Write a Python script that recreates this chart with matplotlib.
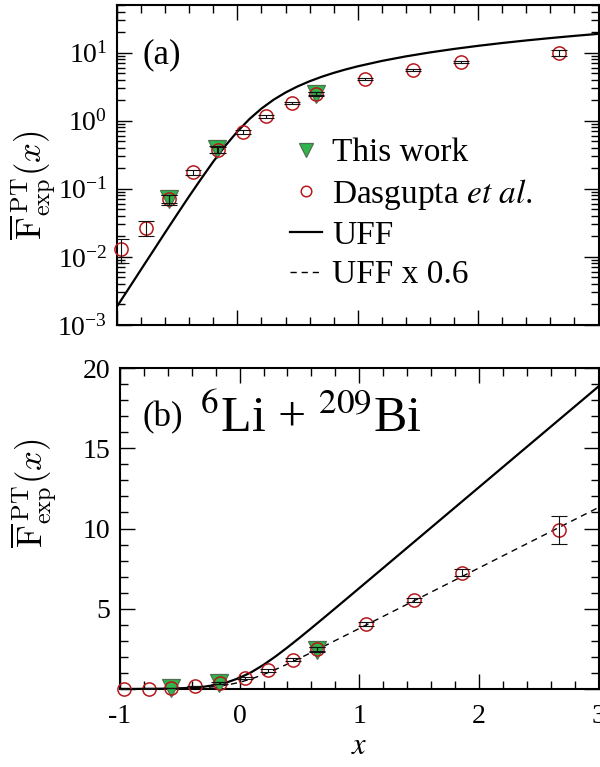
import math

import matplotlib
matplotlib.use("Agg")
import matplotlib.pyplot as plt
from matplotlib.lines import Line2D
from matplotlib.ticker import MultipleLocator, FuncFormatter, LogLocator

plt.rcParams["font.family"] = "serif"
plt.rcParams["font.serif"] = ["Liberation Serif", "DejaVu Serif"]
plt.rcParams["mathtext.fontset"] = "stix"
plt.rcParams["axes.unicode_minus"] = False

# Dasgupta et al. (open circles)
das_x = [-0.97, -0.76, -0.57, -0.37, -0.16, 0.045, 0.24, 0.45, 0.65, 1.06, 1.46, 1.86, 2.67]
das_y = [0.013, 0.027, 0.071, 0.176, 0.37, 0.68, 1.16, 1.82, 2.5, 4.05, 5.55, 7.25, 9.9]
das_err = [0.005, 0.007, 0.01, 0.015, 0.04, 0.05, 0.07, 0.09, 0.12, 0.12, 0.15, 0.2, 0.85]

# This work (green triangles)
tw_x = [-0.57, -0.17, 0.65]
tw_y = [0.07, 0.38, 2.45]
tw_err = [0.012, 0.04, 0.15]

# UFF curve and UFF x 0.6
uff_x = [-1.0, -0.9, -0.8, -0.7, -0.6, -0.5, -0.4, -0.3, -0.2, -0.1, 0.0, 0.1, 0.2, 0.3,
         0.4, 0.5, 0.6, 0.7, 0.8, 0.9, 1.0, 1.2, 1.4, 1.6, 1.8, 2.0, 2.2, 2.4, 2.6, 2.8, 3.0]
uff_y = [0.00187, 0.00349, 0.00654, 0.0122, 0.0228, 0.0423, 0.0779, 0.141, 0.251, 0.428,
         0.693, 1.056, 1.507, 2.026, 2.591, 3.184, 3.793, 4.411, 5.033, 5.658, 6.285,
         7.540, 8.797, 10.053, 11.310, 12.566, 13.823, 15.080, 16.336, 17.593, 18.850]
uff06_y = [0.00112, 0.0021, 0.0039, 0.0073, 0.0137, 0.0254, 0.0467, 0.0848, 0.150, 0.257,
           0.416, 0.634, 0.904, 1.216, 1.555, 1.910, 2.276, 2.646, 3.020, 3.395, 3.771,
           4.524, 5.278, 6.032, 6.786, 7.540, 8.294, 9.048, 9.802, 10.556, 11.31]

CIRC = dict(marker="o", ls="none", ms=9.5, mfc="none", mec="#b5191c", mew=1.1)
TRI = dict(marker="v", ls="none", ms=13, mfc="#2fb54a", mec="#4f6f52", mew=0.9)
ERR = dict(fmt="none", ecolor="#111111", elinewidth=0.8, capsize=5.5, capthick=0.8)
YLABEL = r"$\overline{\mathrm{F}}^{\,\mathrm{PT}}_{\mathrm{exp}}(x)$"

fig = plt.figure(figsize=(6.0, 7.67), dpi=100)
ax1 = fig.add_axes([0.195, 0.5763, 0.8025, 0.4172])
ax2 = fig.add_axes([0.200, 0.1017, 0.7975, 0.4185])


def style(ax):
    for s in ax.spines.values():
        s.set_linewidth(1.5)
    ax.tick_params(which="both", direction="in", top=True, right=True, width=1.0,
                   labelsize=20)
    ax.tick_params(which="major", length=11)
    ax.tick_params(which="minor", length=5.5)
    ax.xaxis.set_major_locator(MultipleLocator(1))
    ax.xaxis.set_minor_locator(MultipleLocator(0.2))
    ax.set_xlim(-1, 3)


# ---- panel (a): log scale
ax = ax1
ax.set_yscale("log")
ax.plot(uff_x, uff_y, color="k", lw=1.6, zorder=2)
h_tw, = ax.plot(tw_x, tw_y, clip_on=False, zorder=3, **TRI)
h_das, = ax.plot(das_x, das_y, clip_on=False, zorder=4, **CIRC)
ax.errorbar(tw_x, tw_y, yerr=tw_err, zorder=5, **ERR)
ax.errorbar(das_x, das_y, yerr=das_err, zorder=5, **ERR)
style(ax)
ax.set_ylim(1e-3, 50)
ax.yaxis.set_major_locator(LogLocator(base=10, numticks=10))
ax.yaxis.set_minor_locator(LogLocator(base=10, subs=range(2, 10), numticks=20))
ax.yaxis.set_major_formatter(FuncFormatter(
    lambda v, p: r"$\mathdefault{10^{%d}}$" % round(math.log10(v))))
ax.tick_params(axis="x", labelbottom=False)
ax.tick_params(axis="y", pad=7)
ax.text(0.052, 0.845, "(a)", transform=ax.transAxes, fontsize=25, va="center")

h_uff = Line2D([], [], color="k", lw=1.6)
h_uff06 = Line2D([], [], color="k", lw=1.0, ls=(0, (4.5, 3.5)))
ax.legend([h_tw, h_das, h_uff, h_uff06],
          ["This work", r"Dasgupta $\mathit{et\ al.}$", "UFF", "UFF x 0.6"],
          loc="upper left", bbox_to_anchor=(0.36, 0.585), frameon=False,
          fontsize=24, borderpad=0, borderaxespad=0, handlelength=0.95,
          handletextpad=0.3, labelspacing=0.26, markerscale=0.8)
lab = ax.set_ylabel(YLABEL, fontsize=25)
lab.set_math_fontfamily("cm")
ax.yaxis.set_label_coords(-0.174, 0.4375)
lab.set_verticalalignment("center")
lab.set_horizontalalignment("center")

# ---- panel (b): linear scale
ax = ax2
ax.plot(uff_x, uff_y, color="k", lw=1.6, zorder=2)
ax.plot(uff_x, uff06_y, color="k", lw=1.0, ls=(0, (4.5, 3.5)), zorder=2)
ax.plot(tw_x, tw_y, clip_on=False, zorder=3, **TRI)
ax.plot(das_x, das_y, clip_on=False, zorder=4, **CIRC)
ax.errorbar(tw_x, tw_y, yerr=tw_err, zorder=5, **ERR)
ax.errorbar(das_x, das_y, yerr=das_err, zorder=5, **ERR)
style(ax)
ax.set_ylim(0, 20)
ax.yaxis.set_major_locator(MultipleLocator(5))
ax.yaxis.set_minor_locator(MultipleLocator(1))
ax.yaxis.set_major_formatter(FuncFormatter(lambda v, p: "" if v == 0 else "%d" % v))
ax.tick_params(axis="y", pad=7)
ax.tick_params(axis="x", pad=11)
ax.text(0.048, 0.845, "(b)", transform=ax.transAxes, fontsize=25, va="center")
ax.text(0.168, 0.84, r"$^{6}$Li + $^{209}$Bi", transform=ax.transAxes,
        fontsize=36, va="center")
ax.set_xlabel(r"$x$", fontsize=22, labelpad=2)
lab2 = ax.set_ylabel(YLABEL, fontsize=25)
lab2.set_math_fontfamily("cm")
ax.yaxis.set_label_coords(-0.18, 0.611)
lab2.set_verticalalignment("center")
lab2.set_horizontalalignment("center")

fig.savefig("out.png", dpi=100)
